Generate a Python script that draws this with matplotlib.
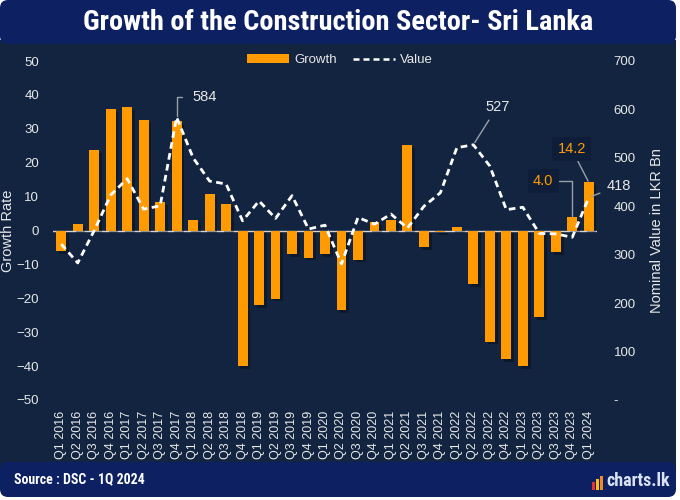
import matplotlib
matplotlib.use("Agg")
import logging
import matplotlib.pyplot as plt
import matplotlib.patheffects as pe
from matplotlib.patches import FancyBboxPatch, Rectangle, Patch
from matplotlib.lines import Line2D
from matplotlib.transforms import IdentityTransform

# ---------------------------
# data
# ---------------------------
quarters = [f"Q{q} {y}" for y in range(2016, 2024) for q in range(1, 5)] + ["Q1 2024"]
growth = [-6.1, 1.8, 23.6, 35.7,
          36.3, 32.5, 8.3, 32.3,
          3.0, 10.7, 7.8, -40.0,
          -22.0, -20.1, -7.0, -8.0,
          -7.0, -23.5, -8.6, 2.5,
          3.0, 25.3, -5.0, -0.4,
          1.0, -15.7, -32.8, -38.0,
          -39.9, -25.6, -6.3, 4.0,
          14.2]
value = [322, 283, 350, 423,
         457, 394, 401, 584,
         500, 452, 446, 370,
         411, 375, 422, 353,
         361, 281, 377, 363,
         384, 355, 400, 428,
         521, 527, 483, 393,
         398, 344, 343, 336,
         418]
left_ticks = list(range(-50, 51, 10))
right_ticks = list(range(0, 701, 100))

# ---------------------------
# style
# ---------------------------
BODY = "#12243f"
BAND = "#0c2062"
ORANGE = "#ff9a00"
TXT = "#e8e8e8"
plt.rcParams["font.family"] = ["Liberation Sans", "DejaVu Sans"]
logging.getLogger("matplotlib.font_manager").setLevel(logging.ERROR)
cond = dict(family=["Roboto Condensed", "DejaVu Sans"], stretch="condensed",
            fontweight="bold")

W, H = 680, 500
fig = plt.figure(figsize=(W / 100, H / 100), dpi=100, facecolor="white")

# background panels in pixel units
fig.add_artist(Rectangle((0, H - 472), 676, 432, transform=IdentityTransform(),
                         facecolor=BODY, edgecolor="none", zorder=0))
fig.add_artist(FancyBboxPatch((0, H - 44), 676, 44, boxstyle="round,pad=0,rounding_size=8",
                              transform=IdentityTransform(), facecolor=BAND,
                              edgecolor="none", zorder=1))
fig.add_artist(FancyBboxPatch((0, H - 497), 676, 35, boxstyle="round,pad=0,rounding_size=8",
                              transform=IdentityTransform(), facecolor=BAND,
                              edgecolor="none", zorder=1))

title = fig.text(338 / W, 1 - 22 / H, "Growth of the Construction Sector- Sri Lanka",
                 fontsize=21, color="white", ha="center", va="center", **cond)
source = fig.text(14 / W, 1 - 479 / H, "Source : DSC - 1Q 2024", fontsize=12,
                  color="white", ha="left", va="center", **cond)

# charts.lk logo
for i, c in enumerate(["#e8322e", "#f7c21a", "#f08a24"]):
    fig.add_artist(Rectangle((592 + i * 4, H - 490), 3, 8 + i * 3,
                             transform=IdentityTransform(), facecolor=c,
                             edgecolor="none", zorder=2))
logo = fig.text(606 / W, 1 - 481 / H, "charts.lk", fontsize=14, color="#dbe3f3",
                ha="left", va="center", **cond)

# keep these texts about as wide as in the original
fig.canvas.draw()
r = fig.canvas.get_renderer()
for t, max_w in [(title, 510), (source, 130), (logo, 64)]:
    w = t.get_window_extent(r).width
    if w > max_w:
        t.set_fontsize(t.get_fontsize() * max_w / w)

# ---------------------------
# axes
# ---------------------------
ax = fig.add_axes([53 / W, 100 / H, 544 / W, 339 / H])
ax.set_facecolor("none")
x = list(range(len(quarters)))

ax.bar(x, growth, width=0.6, color=ORANGE, zorder=3,
       path_effects=[pe.SimplePatchShadow(offset=(2, -2), shadow_rgbFace="black", alpha=0.3),
                     pe.Normal()])
ax.axhline(0, color="#d0d4da", lw=1, zorder=2)
ax.set_xlim(-0.5, len(quarters) - 0.5)
ax.set_ylim(-50, 50)
ax.set_yticks(left_ticks)
ax.set_xticks(x)
ax.set_xticklabels(quarters, rotation=90)
ax.tick_params(axis="both", length=0, colors=TXT, labelsize=9)
ax.tick_params(axis="y", pad=10, labelsize=9.5)
ax.tick_params(axis="x", pad=8)
for s in ax.spines.values():
    s.set_visible(False)

ax2 = ax.twinx()
ax2.plot(x, value, color="white", lw=2, ls=(0, (2.4, 1.6)), zorder=4)
ax2.set_ylim(0, 700)
ax2.set_yticks(right_ticks)
ax2.set_yticklabels(["-" if v == 0 else str(v) for v in right_ticks])
ax2.tick_params(axis="y", length=0, colors=TXT, labelsize=9.5, pad=12)
for s in ax2.spines.values():
    s.set_visible(False)

fig.text(8 / W, 1 - 231 / H, "Growth Rate", rotation=90, fontsize=10.5,
         color=TXT, ha="center", va="center")
fig.text(657 / W, 1 - 231 / H, "Nominal Value in LKR Bn", rotation=90,
         fontsize=10.5, color=TXT, ha="center", va="center")

handles = [Patch(facecolor=ORANGE, edgecolor="none"),
           Line2D([0], [0], color="white", lw=1.8, ls=(0, (2.4, 1.6)))]
fig.legend(handles, ["Growth", "Value"], loc="center", ncol=2,
           bbox_to_anchor=(340 / W, 1 - 60 / H), frameon=False, fontsize=9.5,
           labelcolor=TXT, handlelength=3.2, handleheight=0.6,
           columnspacing=1.2, handletextpad=0.4)

# ---------------------------
# annotations
# ---------------------------
line_kw = dict(arrowstyle="-", color="#9aa0a8", lw=1)
i_peak = value.index(max(value))
ax2.annotate(str(value[i_peak]), xy=(i_peak, value[i_peak]), xytext=(16, 20),
             textcoords="offset pixels", color=TXT, fontsize=10.5, ha="left", va="center",
             arrowprops=dict(**line_kw, shrinkA=6, shrinkB=1,
                             connectionstyle="angle,angleA=0,angleB=90,rad=0"))
ax2.annotate(str(value[25]), xy=(25, value[25]), xytext=(24, 38),
             textcoords="offset pixels", color=TXT, fontsize=10.5, ha="center", va="center",
             arrowprops=dict(**line_kw, shrinkA=3, shrinkB=2))
n = len(value) - 1
ax2.annotate(str(value[n]), xy=(n, value[n]), xytext=(30, 12),
             textcoords="offset pixels", color=TXT, fontsize=10.5, ha="center", va="center",
             arrowprops=dict(**line_kw, shrinkA=3, shrinkB=2))

box = dict(boxstyle="square,pad=0.35", facecolor="#0e1e38", edgecolor="none")
ax.annotate(f"{growth[n]:.1f}", xy=(n, growth[n]), xytext=(-17, 33),
            textcoords="offset pixels", color=ORANGE, fontsize=10.5, ha="center",
            va="center", bbox=box, zorder=6,
            arrowprops=dict(**line_kw, shrinkA=0, shrinkB=1))
ax.annotate(f"{growth[n - 1]:.1f}", xy=(n - 1, growth[n - 1]), xytext=(-29, 36),
            textcoords="offset pixels", color=ORANGE, fontsize=10.5, ha="center",
            va="center", bbox=box, zorder=6,
            arrowprops=dict(**line_kw, shrinkA=0, shrinkB=1,
                            connectionstyle="angle,angleA=0,angleB=90,rad=0"))

fig.savefig("out.png", dpi=100, facecolor=fig.get_facecolor())
